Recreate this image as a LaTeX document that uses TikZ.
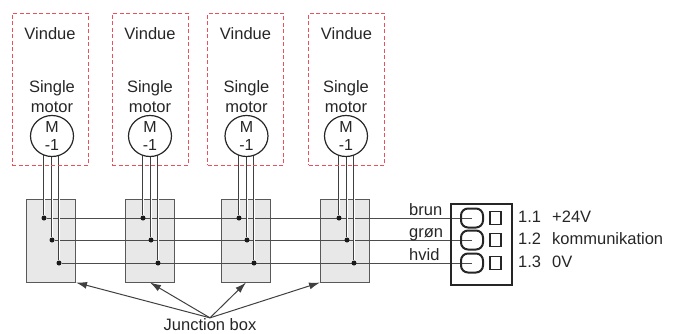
\documentclass[tikz,border=0pt]{standalone}
\usepackage{fontspec}
\setmainfont{Liberation Sans}
\usetikzlibrary{positioning,shapes.geometric,arrows.meta,backgrounds}
\definecolor{framered}{RGB}{232,82,92}
\tikzset{
  window/.style={draw=framered, dash pattern=on 4pt off 2.5pt, line width=1pt, minimum width=76pt, minimum height=152pt, inner sep=0pt},
  motor/.style={ellipse, draw=black!85, line width=1.2pt, fill=white, minimum width=43pt, minimum height=38pt, inner sep=0pt, align=center, font=\fontsize{16}{18}\selectfont},
  jbox/.style={draw=black!65, line width=1pt, fill=black!9, minimum width=49pt, minimum height=83pt, inner sep=0pt},
  joint/.style={circle, fill=black!90, inner sep=0pt, minimum size=5pt},
  wire/.style={draw=black!70, line width=1pt},
  lead/.style={draw=black!75, line width=0.8pt, double=white, double distance=1pt},
  plug/.style={draw=black!85, line width=2pt, minimum width=61pt, minimum height=81pt, inner sep=0pt},
  pin/.style={draw=black!85, line width=2pt, rounded corners=7pt, minimum width=22pt, minimum height=19pt, inner sep=0pt},
  slot/.style={draw=black!85, line width=1.5pt, minimum width=11pt, minimum height=13pt, inner sep=0pt},
  tag/.style={anchor=base west, inner sep=0pt},
  pointer/.style={draw=black!75, line width=1pt, -{Latex[length=11pt,width=7pt]}},
}

\begin{document}
\begin{tikzpicture}[x=1pt, y=-1pt, font=\fontsize{16.5}{20}\selectfont, text=black!85]
  \useasboundingbox (0,0) rectangle (673,333);

  % Windows
  \node[window] (w1) at (50,89) {};
  \node[window] (w2) at (150,89) {};
  \node[window] (w3) at (245.5,89) {};
  \node[window] (w4) at (346.5,89) {};

  % Motors
  \node[motor] (m1) at (52,136) {M\\-1};
  \node[motor] (m2) at (150,136) {M\\-1};
  \node[motor] (m3) at (246.5,136) {M\\-1};
  \node[motor] (m4) at (346,136) {M\\-1};

  % Texts in the windows
  \node[below=11.5pt of w1.north] (v1) {Vindue};
  \node[below=11.5pt of w2.north] (v2) {Vindue};
  \node[below=11.5pt of w3.north] (v3) {Vindue};
  \node[below=11.5pt of w4.north] (v4) {Vindue};
  \node[above=-1.5pt of m1, align=center] (s1) {Single\\motor};
  \node[above=-1.5pt of m2, align=center] (s2) {Single\\motor};
  \node[above=-1.5pt of m3, align=center] (s3) {Single\\motor};
  \node[above=-1.5pt of m4, align=center] (s4) {Single\\motor};

  % Joints
  \node[joint] (d11) at (44,218) {};
  \node[joint] (d12) at (52,240) {};
  \node[joint] (d13) at (59,263) {};
  \node[joint] (d21) at (143,218) {};
  \node[joint] (d22) at (151,240) {};
  \node[joint] (d23) at (158,263) {};
  \node[joint] (d31) at (239,218) {};
  \node[joint] (d32) at (247,240) {};
  \node[joint] (d33) at (254,263) {};
  \node[joint] (d41) at (339,218) {};
  \node[joint] (d42) at (347,240) {};
  \node[joint] (d43) at (354,263) {};

  % Connector
  \node[plug] (k) at (481.5,244.5) {};
  \node[pin] (o1) at (472,218) {};
  \node[pin] (o2) at (472,240) {};
  \node[pin] (o3) at (472,263) {};
  \node[slot, right=5pt of o1] (q1) {};
  \node[slot, right=5pt of o2] (q2) {};
  \node[slot, right=5pt of o3] (q3) {};

  % Labels
  \node[tag] (brun) at (409,215.5) {brun};
  \node[tag] (gron) at (409,237.5) {grøn};
  \node[tag] (hvid) at (409,260.5) {hvid};
  \node[tag] (n1) at (518,222) {1.1};
  \node[tag] (n2) at (518,244) {1.2};
  \node[tag] (n3) at (518,267) {1.3};
  \node[tag] (t1) at (552,222) {+24V};
  \node[tag] (t2) at (552,244) {kommunikation};
  \node[tag] (t3) at (552,267) {0V};
  \node[anchor=base, inner sep=0pt] (jb) at (210,330) {Junction box};

  % Boxes and wires
  \begin{scope}[on background layer]
    \node[jbox] (j1) at (51,240.5) {};
    \node[jbox] (j2) at (150,240.5) {};
    \node[jbox] (j3) at (246,240.5) {};
    \node[jbox] (j4) at (345,240.5) {};
    \draw[wire] (d11) -- (o1.center);
    \draw[wire] (d12) -- (o2.center);
    \draw[wire] (d13) -- (o3.center);
    \draw[lead] (m1 -| d11) -- (d11);
    \draw[lead] (m1 -| d12) -- (d12);
    \draw[lead] (m1 -| d13) -- (d13);
    \draw[lead] (m2 -| d21) -- (d21);
    \draw[lead] (m2 -| d22) -- (d22);
    \draw[lead] (m2 -| d23) -- (d23);
    \draw[lead] (m3 -| d31) -- (d31);
    \draw[lead] (m3 -| d32) -- (d32);
    \draw[lead] (m3 -| d33) -- (d33);
    \draw[lead] (m4 -| d41) -- (d41);
    \draw[lead] (m4 -| d42) -- (d42);
    \draw[lead] (m4 -| d43) -- (d43);
  \end{scope}

  % Arrows
  \draw[pointer] (jb.north) -- (j1.south east);
  \draw[pointer] (jb.north) -- (j2.south);
  \draw[pointer] (jb.north) -- (j3.south);
  \draw[pointer] (jb.north) -- (j4.south west);
\end{tikzpicture}
\end{document}
